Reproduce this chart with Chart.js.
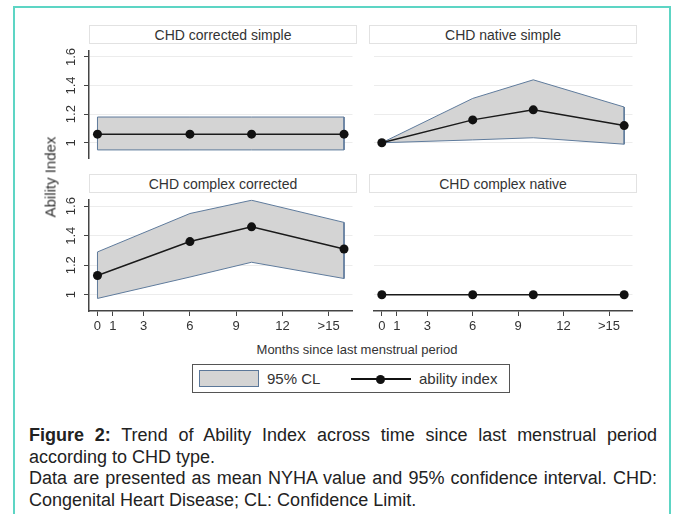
<!DOCTYPE html>
<html>
<head>
<meta charset="utf-8">
<script src="https://cdn.jsdelivr.net/npm/chart.js@4"></script>
<style>
  body { margin: 0; background: #fff; font-family: "Liberation Sans", Arial, sans-serif; }
  #page { position: relative; width: 677px; height: 514px; overflow: hidden; }
  #frame { position: absolute; left: 13px; top: 6px; width: 654px; height: 520px; border: 2px solid #5dd5c4; }
  canvas { position: absolute; }
  .head { position: absolute; height: 19px; border: 1px solid #e2e2e2; background: #fff;
          font-size: 14px; color: #333; text-align: center; line-height: 19px; box-sizing: border-box; }
  .txt { position: absolute; color: #333; white-space: nowrap; }
  #legend { position: absolute; left: 192px; top: 364px; width: 318px; height: 29px; border: 1px solid #555; box-sizing: border-box; }
  #swatch { position: absolute; left: 6px; top: 5px; width: 60px; height: 17px; background: #d4d4d4; border: 1.5px solid #5b7799; box-sizing: border-box; }
  #lline { position: absolute; left: 158px; top: 13px; width: 60px; height: 2px; background: #111; }
  #ldot { position: absolute; left: 183px; top: 9.5px; width: 9px; height: 9px; border-radius: 50%; background: #111; }
  #caption { position: absolute; left: 29px; top: 425px; width: 628px; font-size: 18px; line-height: 21.5px;
             color: #222; text-align: justify; }
</style>
</head>
<body>
<div id="page">
  <div id="frame"></div>

  <div class="head" style="left:89px; top:25px; width:268px;">CHD corrected simple</div>
  <div class="head" style="left:369px; top:25px; width:268px;">CHD native simple</div>
  <div class="head" style="left:89px; top:174px; width:268px;">CHD complex corrected</div>
  <div class="head" style="left:369px; top:174px; width:268px;">CHD complex native</div>

  <canvas id="p1" width="303" height="117" style="left:54px; top:46px;"></canvas>
  <canvas id="p2" width="268" height="117" style="left:369px; top:46px;"></canvas>
  <canvas id="p3" width="303" height="146" style="left:54px; top:195px;"></canvas>
  <canvas id="p4" width="268" height="146" style="left:369px; top:195px;"></canvas>

  <div class="txt" style="left:50px; top:177px; font-size:15px; transform: translate(-50%, -50%) rotate(-90deg);">Ability Index</div>
  <div class="txt" style="left:357px; top:349px; font-size:13px; transform: translate(-50%, -50%);">Months since last menstrual period</div>

  <div id="legend">
    <div id="swatch"></div>
    <div class="txt" style="left:74px; top:5px; font-size:15px;">95% CL</div>
    <div id="lline"></div>
    <div id="ldot"></div>
    <div class="txt" style="left:226px; top:5px; font-size:15px;">ability index</div>
  </div>

  <div id="caption"><b>Figure 2:</b> Trend of Ability Index across time since last menstrual period according to CHD type.<br>Data are presented as mean NYHA value and 95% confidence interval. CHD: Congenital Heart Disease; CL: Confidence Limit.</div>
</div>

<script>
// months since last menstrual period at which the index was measured
const months = [0, 6, 10, 16];
const tickMonths = [0, 1, 3, 6, 9, 12, 15];
const tickLabels = ['0', '1', '3', '6', '9', '12', '>15'];
const yTicks = [1, 1.2, 1.4, 1.6];

const correctedSimpleMean = [1.06, 1.06, 1.06, 1.06];
const correctedSimpleLow  = [0.95, 0.95, 0.95, 0.95];
const correctedSimpleHigh = [1.18, 1.18, 1.18, 1.18];

const nativeSimpleMean = [1.00, 1.16, 1.23, 1.12];
const nativeSimpleLow  = [1.00, 1.02, 1.035, 0.99];
const nativeSimpleHigh = [1.00, 1.31, 1.44, 1.25];

const complexCorrectedMean = [1.13, 1.36, 1.46, 1.31];
const complexCorrectedLow  = [0.975, 1.12, 1.22, 1.11];
const complexCorrectedHigh = [1.29, 1.55, 1.64, 1.49];

const complexNativeMean = [1.00, 1.00, 1.00, 1.00];

const FONT = '"Liberation Sans", Arial, sans-serif';
const AXIS = '#444';

const pts = (ys) => months.map((m, i) => ({ x: m, y: ys[i] }));

// y tick labels are rotated like in Stata, so draw them from the scale
const rotatedYLabels = {
  id: 'rotatedYLabels',
  afterDraw(chart) {
    const y = chart.scales.y, ctx = chart.ctx;
    ctx.save();
    ctx.font = '13px ' + FONT;
    ctx.fillStyle = '#333';
    ctx.textAlign = 'center';
    ctx.textBaseline = 'middle';
    yTicks.forEach(v => {
      ctx.save();
      ctx.translate(chart.chartArea.left - 18, y.getPixelForValue(v));
      ctx.rotate(-Math.PI / 2);
      ctx.fillText(v === 1 ? '1' : v.toFixed(1), 0, 0);
      ctx.restore();
    });
    ctx.restore();
  }
};

function makePanel(id, mean, low, high, left, bottom) {
  const datasets = [{
    label: 'ability index',
    data: pts(mean),
    borderColor: '#1a1a1a',
    backgroundColor: '#111',
    borderWidth: 1.5,
    pointRadius: 4.5,
    pointBorderWidth: 0,
    fill: false,
    order: 0
  }];
  if (high) {
    // upper edge closes down to the lower bound at both ends, like the rarea outline
    const upper = [{ x: months[0], y: low[0] }].concat(pts(high), [{ x: months[months.length - 1], y: low[low.length - 1] }]);
    datasets.push({
      label: '95% CL',
      data: upper,
      borderColor: '#5f7b9c',
      backgroundColor: '#d4d4d4',
      borderWidth: 1,
      pointRadius: 0,
      fill: '+1',
      order: 2
    }, {
      label: '95% CL low',
      data: pts(low),
      borderColor: '#5f7b9c',
      borderWidth: 1,
      pointRadius: 0,
      fill: false,
      order: 1
    });
  }

  new Chart(document.getElementById(id), {
    type: 'line',
    data: { datasets: datasets },
    options: {
      responsive: false,
      animation: false,
      devicePixelRatio: 1,
      events: [],
      layout: { padding: 0 },
      plugins: { legend: { display: false }, tooltip: { enabled: false } },
      scales: {
        x: {
          type: 'linear',
          min: -0.55,
          max: 16.55,
          display: bottom,
          afterBuildTicks: s => { s.ticks = tickMonths.map(v => ({ value: v })); },
          afterFit: s => { s.height = bottom ? 30 : 0; },
          border: { display: true, color: AXIS, width: 1.5 },
          grid: { drawOnChartArea: false, drawTicks: true, tickLength: 5, tickColor: AXIS, tickWidth: 1 },
          ticks: {
            autoSkip: false, maxRotation: 0, padding: 3, color: '#333',
            font: { family: FONT, size: 13 },
            callback: v => tickLabels[tickMonths.indexOf(v)]
          }
        },
        y: {
          type: 'linear',
          min: 0.89,
          max: 1.645,
          afterBuildTicks: s => { s.ticks = yTicks.map(v => ({ value: v })); },
          afterFit: s => { s.width = left ? 35 : 0; },
          border: { display: left, color: AXIS, width: 1.5 },
          grid: { color: '#ececec', lineWidth: 1, drawTicks: left, tickLength: 5, tickColor: AXIS, tickWidth: 1 },
          ticks: { display: false }
        }
      }
    },
    plugins: left ? [rotatedYLabels] : []
  });
}

makePanel('p1', correctedSimpleMean, correctedSimpleLow, correctedSimpleHigh, true, false);
makePanel('p2', nativeSimpleMean, nativeSimpleLow, nativeSimpleHigh, false, false);
makePanel('p3', complexCorrectedMean, complexCorrectedLow, complexCorrectedHigh, true, true);
makePanel('p4', complexNativeMean, null, null, false, true);
</script>
</body>
</html>
